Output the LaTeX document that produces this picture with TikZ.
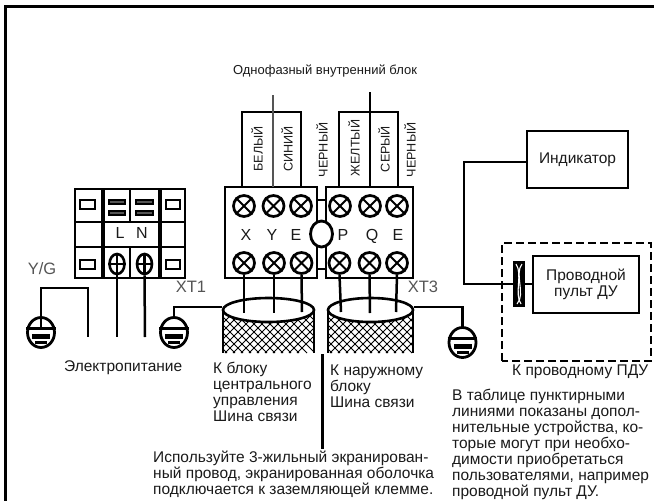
\documentclass[tikz,border=0pt]{standalone}
\usepackage{fontspec}
\setmainfont{Liberation Sans}
\usetikzlibrary{shapes.geometric}
\definecolor{ink}{HTML}{1A1A1A}
\definecolor{soft}{HTML}{555555}
\tikzset{
  x=1pt,y=-1pt,
  wire/.style={line width=2.5pt,draw=black},
  heavy/.style={line width=3pt,draw=black},
  label/.style={inner sep=0pt,text=ink,font=\fontsize{15.5}{16.1}\selectfont,align=left,anchor=west},
  vlabel/.style={inner sep=0pt,text=ink,rotate=90,font=\fontsize{12.6}{14}\selectfont},
  tag/.style={inner sep=0pt,text=soft,font=\fontsize{16.5}{18}\selectfont},
  letter/.style={inner sep=0pt,text=ink,text height=11.5pt,text depth=0pt,font=\fontsize{16}{18}\selectfont},
  xscrew/.style={circle,draw=black,line width=2.7pt,fill=white,minimum size=21pt,inner sep=0pt},
  pscrew/.style={ellipse,draw=black,line width=2.6pt,fill=white,minimum width=15pt,minimum height=20pt,inner sep=0pt},
  gndshape/.style={ellipse,draw=black,line width=2.8pt,fill=white,minimum width=27pt,minimum height=30pt,inner sep=0pt},
  boxnode/.style={rectangle,draw=black,line width=2.7pt,fill=white,inner sep=0pt,align=center,font=\fontsize{15.5}{16.4}\selectfont,text=ink},
  cabletop/.style={ellipse,draw=black,line width=2.6pt,fill=white,inner sep=0pt},
  slot/.style={draw=black,line width=2.1pt,fill=white}
}
\newcommand{\XS}[3]{\node[xscrew] (#1) at (#2,#3) {};
  \draw[line width=2.1pt] (#1.45)--(#1.225) (#1.135)--(#1.-45);}
\newcommand{\PS}[3]{\node[pscrew] (#1) at (#2,#3) {};
  \draw[line width=2.1pt] (#1.north)--(#1.south) (#1.west)--(#1.east);}
\newcommand{\GND}[3]{\node[gndshape] (#1) at (#2,#3) {};
  \draw[line width=2.4pt] (#1.west |- 0,#3-4) -- (#1.east |- 0,#3-4);
  \fill[black] (#2-9,#3+1) rectangle (#2+9,#3+6);
  \fill[black] (#2-6,#3+8) rectangle (#2+6,#3+11);}
\newcommand{\MESH}[4]{\begin{scope}
  \clip (#1,#2) rectangle (#3,#4);
  \foreach \k in {-4,4,...,124}{
    \draw[line width=0.75pt] (#1+\k-50,#4) -- (#1+\k,#4-50);
    \draw[line width=0.75pt] (#1+\k-50,#4-50) -- (#1+\k,#4);
  }
  \end{scope}}
\begin{document}
\begin{tikzpicture}
\useasboundingbox (0,0) rectangle (654,501);
\fill[white] (0,0) rectangle (654,501);
% frame
\draw[line width=2.8pt,line join=miter] (5.5,501) -- (5.5,6.5) -- (654,6.5);

% power terminal
\draw[wire,fill=white] (75,189) rectangle (185,278);
\draw[wire] (75,222) -- (185,222) (75,247) -- (185,247);
\draw[line width=3.4pt] (103,189) -- (103,278) (160,189) -- (160,278);
\draw[wire] (130,189) -- (130,222) (130,247) -- (130,278);
\draw[slot] (80,200) rectangle (95,209);
\draw[slot] (166,200) rectangle (180,209);
\draw[slot] (80,260) rectangle (95,269);
\draw[slot] (166,260) rectangle (180,269);
\fill[soft,draw=black,line width=1.6pt] (109,200) rectangle (125,204);
\fill[soft,draw=black,line width=1.6pt] (109,211) rectangle (125,215);
\fill[soft,draw=black,line width=1.6pt] (136,200) rectangle (153,204);
\fill[soft,draw=black,line width=1.6pt] (136,211) rectangle (153,215);
\node[letter] (lL) at (120,233) {L};
\node[letter] (lN) at (142,233) {N};
\PS{pL}{117}{264}
\PS{pN}{144.5}{264}
\coordinate (eL) at (117,337);
\coordinate (eN) at (145,337);
\draw[wire] (pL.south) -- (eL);
\draw[wire] (pN.south) -- (eN);

% grounds
\GND{g1}{41}{332.5}
\GND{g2}{174}{332.5}
\GND{g3}{462.5}{342.5}
\coordinate (yg1) at (41,288);
\coordinate (yg2) at (88,288);
\coordinate (yg3) at (88,337);
\draw[wire,line width=2.8pt] (41,328) -- (yg1) -- (yg2) -- (yg3);
\node[tag] (yg) at (42,269) {Y/G};
\node[tag] (xt1) at (191,287) {XT1};
\node[tag] (xt3) at (423,287) {XT3};

% cable meshes
\MESH{223}{310}{314}{353}
\MESH{328}{310}{413}{353}
\draw[line width=2.8pt] (223,310) -- (223,353) (314,310) -- (314,353);
\draw[line width=2.8pt] (328,310) -- (328,353) (413,310) -- (413,353);
\node[cabletop,minimum width=91pt,minimum height=24pt] (c1) at (268.5,310) {};
\node[cabletop,minimum width=85pt,minimum height=24pt] (c2) at (370.5,310) {};
\coordinate (s1) at (174,307);
\coordinate (s3) at (462.5,307);
\draw[wire,line width=2.8pt] (c1.west |- s1) -- (s1) -- (g2.north);
\draw[wire,line width=2.8pt] (c2.east |- s3) -- (s3) -- (g3.north);

% signal terminals
\draw[wire,line width=2.8pt,fill=white] (225,187) rectangle (317,278);
\draw[wire,line width=2.8pt,fill=white] (326,187) rectangle (413,278);
\draw[line width=2.6pt] (317,200) -- (326,200) (317,269) -- (326,269);
\node[ellipse,draw=black,line width=2.8pt,fill=white,minimum width=22pt,minimum height=26pt,inner sep=0pt] (link) at (321.5,234) {};
\XS{tx}{244}{206}\XS{ty}{273.5}{206}\XS{te}{301}{206}
\XS{tp}{340}{206}\XS{tq}{370}{206}\XS{tf}{397}{206}
\XS{bx}{244}{263}\XS{by}{274}{263}\XS{be}{301.5}{263}
\XS{bp}{339.5}{263}\XS{bq}{369.5}{263}\XS{bf}{397}{263}
\node[letter] (lx) at (246,235) {X};
\node[letter] (ly) at (272,235) {Y};
\node[letter] (le) at (296,235) {E};
\node[letter] (lp) at (343,235) {P};
\node[letter] (lq) at (372,235) {Q};
\node[letter] (lf) at (398,235) {E};
% wires into the cables
\coordinate (wx) at (244,313); \coordinate (wy) at (274,313); \coordinate (we) at (302,312);
\coordinate (wp) at (341,312); \coordinate (wq) at (370,313); \coordinate (wf) at (396,312);
\draw[wire] (bx.south) -- (wx);
\draw[wire] (by.south) -- (wy);
\draw[wire] (be.south) -- (we);
\draw[wire] (bp.south) -- (wp);
\draw[wire] (bq.south) -- (wq);
\draw[wire] (bf.south) -- (wf);

% upper brackets
\draw[wire,line width=2.6pt] (242,187) -- (242,112) -- (301,112) -- (301,187);
\draw[line width=2.6pt,draw=soft] (273,95) -- (273,187);
\draw[wire,line width=2.6pt] (339,187) -- (339,112) -- (398,112) -- (398,187);
\draw[wire,line width=2.6pt] (370,92) -- (370,187);
\node[label,anchor=center,font=\fontsize{13}{14}\selectfont] (title) at (325,71) {Однофазный внутренний блок};
\node[vlabel] (v1) at (257,149) {БЕЛЫЙ};
\node[vlabel] (v2) at (287,149) {СИНИЙ};
\node[vlabel] (v3) at (322,150) {ЧЕРНЫЙ};
\node[vlabel] (v4) at (354,148) {ЖЕЛТЫЙ};
\node[vlabel] (v5) at (384,149) {СЕРЫЙ};
\node[vlabel] (v6) at (410,150) {ЧЕРНЫЙ};

% indicator and remote
\node[boxnode,minimum width=101pt,minimum height=57pt] (ind) at (577.5,159.5) {Индикатор};
\node[boxnode,minimum width=106pt,minimum height=57pt] (rem) at (586,284.5) {Проводной\\пульт ДУ};
\node[rectangle,draw=black,fill=black,line width=1.2pt,minimum width=11pt,minimum height=45pt,inner sep=0pt] (conn) at (519,284) {};
\draw[white,line width=1.1pt] (516,264) .. controls (523,274) and (514,294) .. (521,304);
\draw[white,line width=1.1pt] (522,264) .. controls (514,274) and (526,294) .. (517,304);
\coordinate (bend) at (464,284);
\draw[wire,line width=2.6pt] (ind.west |- 0,162) -- (464,162) -- (bend) -- (conn.west);
\draw[wire,line width=2.6pt] (conn.east) -- (rem.west |- conn.east);
\draw[line width=2.5pt,dash pattern=on 8pt off 4pt] (502,361) -- (502,243) -- (651,243) -- (651,361) -- cycle;

% texts
\node[label] (tpow) at (64,368) {Электропитание};
\node[label] (tc1) at (213,392) {К блоку\\центрального\\управления\\Шина связи};
\node[label] (tc2) at (330,386) {К наружному\\блоку\\Шина связи};
\node[label] (tdu) at (512,372) {К проводному ПДУ};
\node[label] (tnote) at (452,444.5) {В таблице пунктирными\\линиями показаны допол-\\нительные устройства, ко-\\торые могут при необхо-\\димости приобретаться\\пользователями, например\\проводной пульт ДУ.};
\node[label] (tuse) at (153,474.5) {Используйте 3-жильный экранирован-\\ный провод, экранированная оболочка\\подключается к заземляющей клемме.};
\coordinate (sep) at (322,354);
\draw[heavy] (sep) -- (322,449);
\end{tikzpicture}
\end{document}
